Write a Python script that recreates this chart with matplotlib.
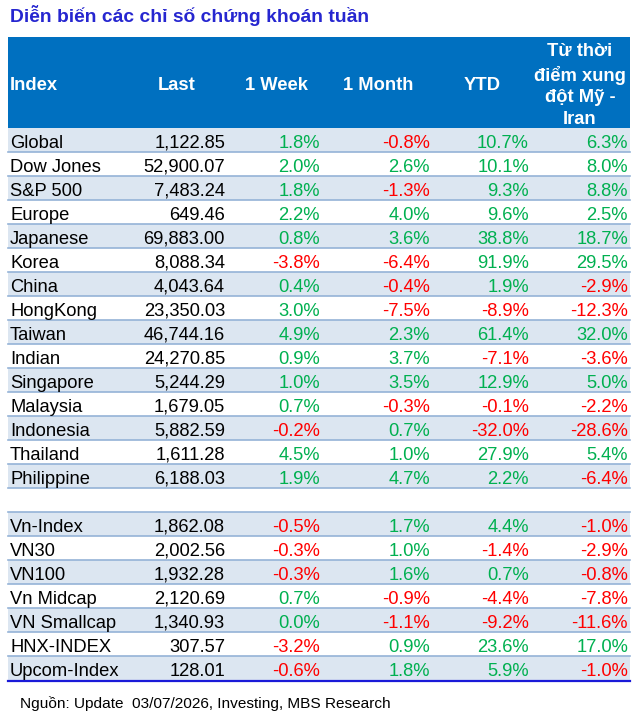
import matplotlib
matplotlib.use("Agg")
import matplotlib.pyplot as plt
from matplotlib.patches import Rectangle

plt.rcParams['font.family'] = ['Liberation Sans', 'DejaVu Sans']

# ---------------------------------------------------------------- data
title = "Diễn biến các chỉ số chứng khoán tuần"
footer = "Nguồn: Update  03/07/2026, Investing, MBS Research"
headers = ["Index", "Last", "1 Week", "1 Month", "YTD", "Từ thời\nđiểm xung\nđột Mỹ -\nIran"]

# None marks the empty spacer row
names = ["Global", "Dow Jones", "S&P 500", "Europe", "Japanese", "Korea", "China",
         "HongKong", "Taiwan", "Indian", "Singapore", "Malaysia", "Indonesia",
         "Thailand", "Philippine", None,
         "Vn-Index", "VN30", "VN100", "Vn Midcap", "VN Smallcap", "HNX-INDEX", "Upcom-Index"]
last = [1122.85, 52900.07, 7483.24, 649.46, 69883.00, 8088.34, 4043.64,
        23350.03, 46744.16, 24270.85, 5244.29, 1679.05, 5882.59,
        1611.28, 6188.03, None,
        1862.08, 2002.56, 1932.28, 2120.69, 1340.93, 307.57, 128.01]
week = [1.8, 2.0, 1.8, 2.2, 0.8, -3.8, 0.4, 3.0, 4.9, 0.9, 1.0, 0.7, -0.2, 4.5, 1.9, None,
        -0.5, -0.3, -0.3, 0.7, 0.0, -3.2, -0.6]
month = [-0.8, 2.6, -1.3, 4.0, 3.6, -6.4, -0.4, -7.5, 2.3, 3.7, 3.5, -0.3, 0.7, 1.0, 4.7, None,
         1.7, 1.0, 1.6, -0.9, -1.1, 0.9, 1.8]
ytd = [10.7, 10.1, 9.3, 9.6, 38.8, 91.9, 1.9, -8.9, 61.4, -7.1, 12.9, -0.1, -32.0, 27.9, 2.2, None,
       4.4, -1.4, 0.7, -4.4, -9.2, 23.6, 5.9]
conflict = [6.3, 8.0, 8.8, 2.5, 18.7, 29.5, -2.9, -12.3, 32.0, -3.6, 5.0, -2.2, -28.6, 5.4, -6.4, None,
            -1.0, -2.9, -0.8, -7.8, -11.6, 17.0, -1.0]

# ---------------------------------------------------------------- layout (pixels)
W, H = 639, 715
left, right = 8, 630
head_top, head_bot = 37, 128
row_h = 24
col_right = [None, 225, 320, 430, 529, 628]
head_x = [10, 177, 276, 378, 482, 580]

blue_head = "#0070C0"
light = "#DCE6F1"
line_c = "#95B3D7"
green = "#00B050"
red = "#FF0000"

fig = plt.figure(figsize=(W / 100, H / 100), dpi=100)
ax = fig.add_axes([0, 0, 1, 1])
ax.set_xlim(0, W)
ax.set_ylim(H, 0)
ax.axis("off")

ax.text(10, 15, title, fontsize=13.9, fontweight="bold", color="#2626D0", va="center", ha="left")

ax.add_patch(Rectangle((left, head_top), right - left, head_bot - head_top, color=blue_head, lw=0))
for i, h in enumerate(headers):
    ha = "left" if i == 0 else "center"
    ax.text(head_x[i], (head_top + head_bot) / 2 + 3, h, fontsize=13.2, fontweight="bold",
            color="white", ha=ha, va="center", linespacing=1.36)

fs = 13.2
for i, nm in enumerate(names):
    top = head_bot + i * row_h
    if i % 2 == 0 and nm is not None:
        ax.add_patch(Rectangle((left, top), right - left, row_h, color=light, lw=0))
    if i > 0:
        ax.plot([left, right], [top, top], color=line_c, lw=1.2)
    if nm is None:
        continue
    y = top + row_h / 2 + 3.5
    ax.text(10, y, nm, fontsize=fs, ha="left", va="center", color="black")
    ax.text(col_right[1], y, f"{last[i]:,.2f}", fontsize=fs, ha="right", va="center", color="black")
    for j, series in enumerate([week, month, ytd, conflict]):
        v = series[i]
        c = red if v < 0 else green
        ax.text(col_right[j + 2], y, f"{v:.1f}%", fontsize=fs, ha="right", va="center", color=c)

bottom = head_bot + len(names) * row_h
ax.plot([left, right], [bottom + 1, bottom + 1], color="#1A1AD8", lw=1.6)

ax.text(20, 704, footer, fontsize=11.1, ha="left", va="center", color="black")

fig.savefig("out.png", dpi=100)
